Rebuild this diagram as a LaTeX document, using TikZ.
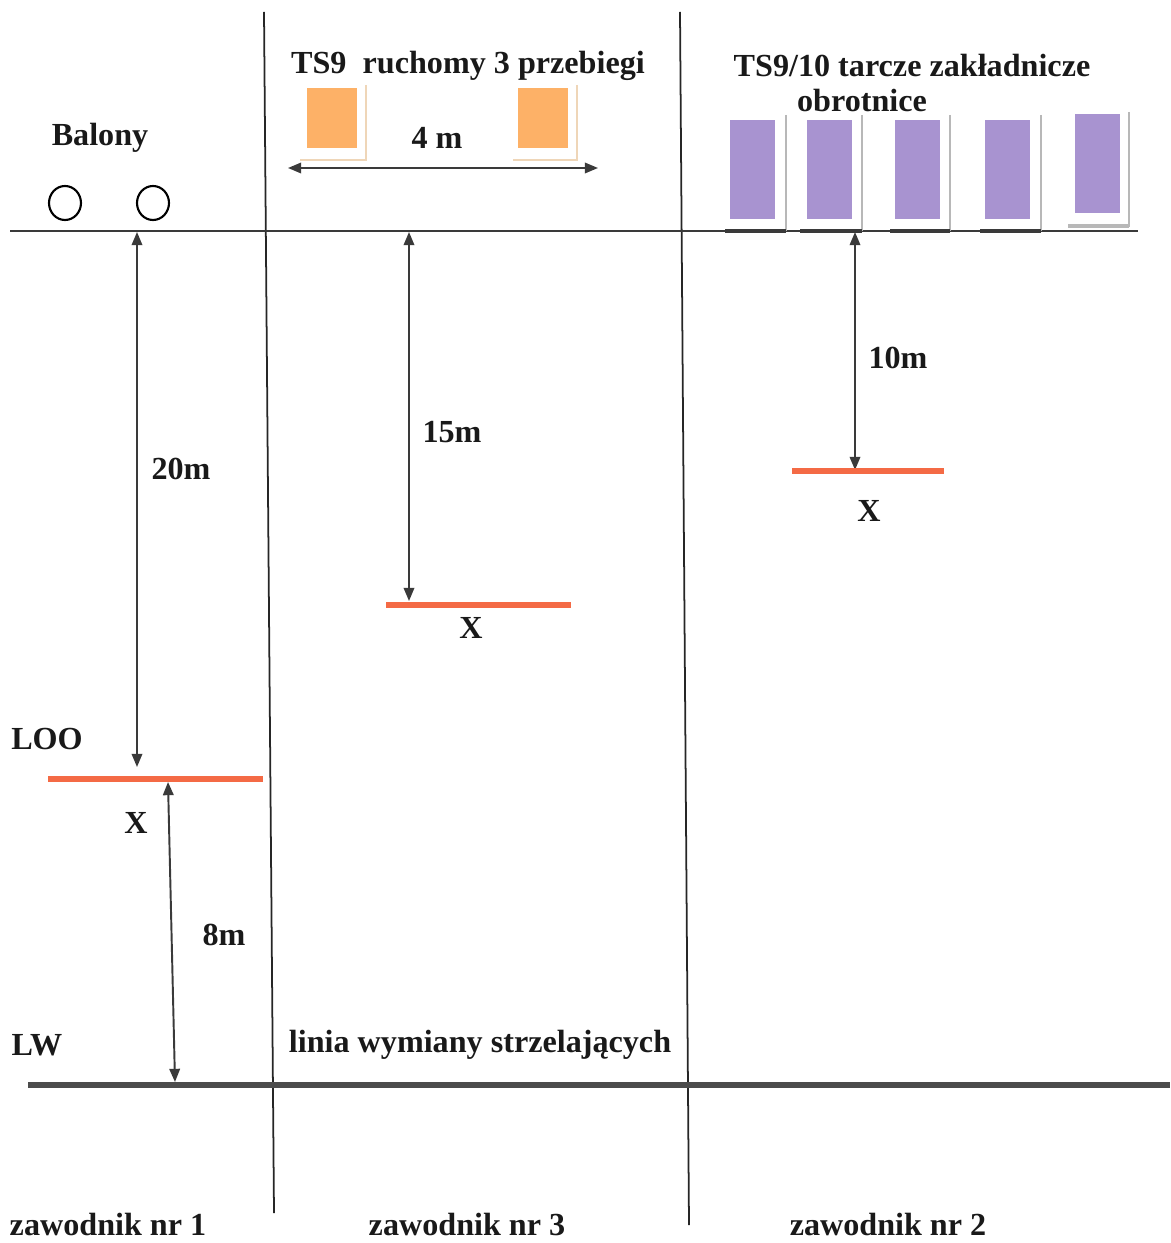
\documentclass[tikz,border=0pt]{standalone}
\usepackage{fontspec}
\setmainfont{Liberation Serif}
\usetikzlibrary{arrows.meta, shapes.geometric}
\definecolor{linegray}{HTML}{3A3A3A}
\definecolor{redline}{HTML}{F46A45}
\definecolor{orangetgt}{HTML}{FDB167}
\definecolor{purpletgt}{HTML}{A893D0}
\definecolor{shadowgray}{HTML}{B8B8B8}
\definecolor{shadowtan}{HTML}{EFD6B8}

\begin{document}
\begin{tikzpicture}[x=0.02cm, y=-0.02cm,
  lbl/.style={inner sep=0pt, font=\fontsize{18.3}{21}\selectfont\bfseries, text=black!90},
  dim/.style={{Triangle[length=7.5pt,width=6pt]}-{Triangle[length=7.5pt,width=6pt]}, line width=1.1pt, linegray},
  divider/.style={line width=1pt, black!85},
  firing/.style={line width=3.6pt, redline},
  ballon/.style={draw, line width=1.2pt, ellipse, minimum width=0.64cm, minimum height=0.68cm, inner sep=0pt},
  orangebox/.style={fill=orangetgt, minimum width=1.0cm, minimum height=1.2cm, inner sep=0pt},
  purplebox/.style={fill=purpletgt, minimum width=0.9cm, minimum height=1.98cm, inner sep=0pt},
  shadowline/.style={line width=1.2pt, shadowgray}]
  \useasboundingbox (0,0) rectangle (1170,1243);

  % lanes and lines
  \coordinate (d1top) at (264,12);
  \coordinate (d1bot) at (274,1213);
  \coordinate (d2top) at (680,12);
  \coordinate (d2bot) at (689,1225);
  \coordinate (baseL) at (10,231);
  \coordinate (baseR) at (1138,231);
  \coordinate (lwL) at (28,1085);
  \coordinate (lwR) at (1170,1085);
  \draw[divider] (d1top) -- (d1bot);
  \draw[divider] (d2top) -- (d2bot);
  \draw[line width=1.1pt, linegray] (baseL) -- (baseR);
  \draw[line width=3.4pt, black!70] (lwL) -- (lwR);

  % lane 1: balloons
  \node[lbl] (balony) at (100,138) {Balony};
  \node[ballon] (b1) at (65,203) {};
  \node[ballon] (b2) at (153,203) {};
  \coordinate (looL) at (48,779);
  \coordinate (looR) at (263,779);
  \draw[firing] (looL) -- (looR);
  \node[lbl] (loo) at (47,739) {LOO};
  \node[lbl] (x1) at (136,823) {X};
  \coordinate (top20) at (137,232);
  \coordinate (end20) at (137,767);
  \draw[dim] (top20) -- (end20);
  \node[lbl] (m20) at (181,469) {20m};
  \coordinate (top8) at (168,782);
  \coordinate (end8) at (175,1082);
  \draw[dim] (top8) -- (end8);
  \node[lbl] (m8) at (224,935) {8m};
  \node[lbl] (lw) at (37,1045) {LW};

  % lane 3: moving target
  \node[lbl] (ts9) at (468,66) {TS9\ \ ruchomy 3 przebiegi};
  \draw[line width=1.2pt, shadowtan] (366,85) -- (366,160) -- (300,160);
  \draw[line width=1.2pt, shadowtan] (577,85) -- (577,160) -- (513,160);
  \node[orangebox] (o1) at (332,118) {};
  \node[orangebox] (o2) at (543,118) {};
  \node[lbl] (m4) at (437,138) {4 m};
  \coordinate (runL) at (288,168);
  \coordinate (runR) at (598,168);
  \draw[dim] (runL) -- (runR);
  \coordinate (top15) at (409,232);
  \coordinate (end15) at (409,601);
  \draw[dim] (top15) -- (end15);
  \node[lbl] (m15) at (452,432) {15m};
  \coordinate (s3L) at (386,605);
  \coordinate (s3R) at (571,605);
  \draw[firing] (s3L) -- (s3R);
  \node[lbl] (x3) at (471,628) {X};
  \node[lbl] (linia) at (480,1045) {linia wymiany strzelających};

  % lane 2: turning targets
  \node[lbl] (ts910) at (912,66) {TS9/10 tarcze zakładnicze};
  \node[lbl] (obr) at (862,101) {obrotnice};
  \draw[shadowline] (786,115) -- (786,231);
  \draw[shadowline] (862,115) -- (862,231);
  \draw[shadowline] (950,115) -- (950,231);
  \draw[shadowline] (1041,115) -- (1041,231);
  \draw[shadowline] (1129,112) -- (1129,227);
  \draw[line width=2.2pt, shadowgray] (1068,226) -- (1129,226);
  \draw[line width=1.8pt, linegray] (725,231) -- (786,231);
  \draw[line width=1.8pt, linegray] (800,231) -- (862,231);
  \draw[line width=1.8pt, linegray] (890,231) -- (950,231);
  \draw[line width=1.8pt, linegray] (980,231) -- (1041,231);
  \node[purplebox] (p1) at (752.5,169.5) {};
  \node[purplebox] (p2) at (829,169.5) {};
  \node[purplebox] (p3) at (917,169.5) {};
  \node[purplebox] (p4) at (1007,169.5) {};
  \node[purplebox] (p5) at (1097,163.5) {};
  \coordinate (top10) at (855,232);
  \coordinate (end10) at (855,470);
  \draw[dim] (top10) -- (end10);
  \node[lbl] (m10) at (898,358) {10m};
  \coordinate (s2L) at (792,471);
  \coordinate (s2R) at (944,471);
  \draw[firing] (s2L) -- (s2R);
  \node[lbl] (x2) at (869,511) {X};

  % competitors
  \node[lbl] (z1) at (108,1224) {zawodnik nr 1};
  \node[lbl] (z3) at (467,1224) {zawodnik nr 3};
  \node[lbl] (z2) at (888,1224) {zawodnik nr 2};
\end{tikzpicture}
\end{document}
